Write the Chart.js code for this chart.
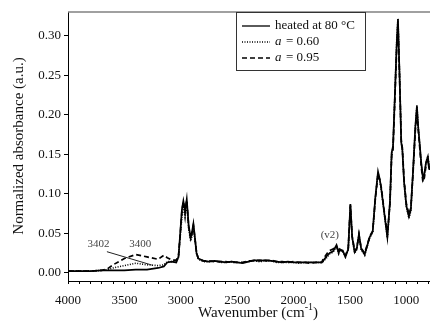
<!DOCTYPE html>
<html>
<head>
<meta charset="utf-8">
<script src="https://cdn.jsdelivr.net/npm/chart.js@4/dist/chart.umd.min.js"></script>
<style>
  html, body { margin: 0; padding: 0; background: #fff; }
  #myChart { display: block; }
</style>
</head>
<body>
<canvas id="myChart" width="430" height="326"></canvas>
<script>
// wavenumbers (cm-1)
const wavenumbers = [
    4000, 3900, 3800, 3700, 3650, 3600, 3500, 3400, 3300, 3200, 3150, 3120, 3080, 3040, 3020,
    3005, 2990, 2977, 2962, 2947, 2930, 2912, 2900, 2888, 2875, 2860, 2844,
    2800, 2750, 2700, 2650, 2600, 2550, 2500, 2450, 2400, 2350, 2300, 2250, 2200, 2150, 2100, 2050, 2000, 1950, 1900, 1850, 1800, 1750,
    1738, 1700, 1679, 1650, 1619, 1600, 1590, 1564, 1540, 1515, 1496, 1480, 1458, 1440, 1420, 1400, 1369,
    1345, 1325, 1298, 1275, 1251, 1235, 1221, 1195, 1168, 1145, 1130, 1118, 1100, 1085, 1074, 1060, 1045, 1035, 1020, 1000,
    977, 960, 940, 920, 906, 895, 882, 868, 853, 840, 825, 809, 795
];

const heated80 = [
    0.002, 0.002, 0.002, 0.003, 0.003, 0.003, 0.003, 0.004, 0.004, 0.006, 0.008, 0.013, 0.014, 0.013, 0.020,
    0.050, 0.080, 0.091, 0.078, 0.093, 0.060, 0.044, 0.052, 0.062, 0.045, 0.025, 0.018,
    0.015, 0.014, 0.015, 0.014, 0.013, 0.014, 0.013, 0.012, 0.014, 0.016, 0.015, 0.016, 0.015, 0.014, 0.013, 0.014, 0.013, 0.013, 0.013, 0.013, 0.013, 0.013,
    0.015, 0.022, 0.025, 0.027, 0.035, 0.025, 0.029, 0.028, 0.020, 0.030, 0.087, 0.045, 0.026, 0.030, 0.049, 0.030, 0.023,
    0.035, 0.045, 0.052, 0.095, 0.128, 0.118, 0.105, 0.075, 0.045, 0.090, 0.152, 0.160, 0.230, 0.290, 0.321, 0.250, 0.165, 0.155, 0.115, 0.085,
    0.071, 0.080, 0.130, 0.185, 0.211, 0.185, 0.164, 0.140, 0.121, 0.125, 0.140, 0.147, 0.130
];

const a060 = [
    0.002, 0.002, 0.002, 0.003, 0.004, 0.006, 0.009, 0.012, 0.010, 0.009, 0.010, 0.014, 0.014, 0.014, 0.020,
    0.045, 0.070, 0.086, 0.070, 0.090, 0.055, 0.040, 0.047, 0.058, 0.042, 0.024, 0.017,
    0.014, 0.014, 0.015, 0.013, 0.013, 0.014, 0.013, 0.013, 0.014, 0.015, 0.014, 0.015, 0.015, 0.013, 0.013, 0.013, 0.013, 0.012, 0.013, 0.013, 0.013, 0.013,
    0.014, 0.020, 0.024, 0.026, 0.033, 0.024, 0.028, 0.027, 0.020, 0.029, 0.086, 0.044, 0.025, 0.029, 0.048, 0.029, 0.022,
    0.034, 0.044, 0.051, 0.093, 0.126, 0.117, 0.104, 0.074, 0.044, 0.088, 0.150, 0.158, 0.232, 0.295, 0.322, 0.252, 0.167, 0.156, 0.114, 0.083,
    0.069, 0.078, 0.128, 0.184, 0.212, 0.186, 0.163, 0.138, 0.118, 0.124, 0.140, 0.148, 0.131
];

const a095 = [
    0.002, 0.002, 0.002, 0.003, 0.005, 0.010, 0.018, 0.023, 0.020, 0.017, 0.022, 0.019, 0.016, 0.016, 0.022,
    0.048, 0.078, 0.090, 0.076, 0.092, 0.058, 0.043, 0.050, 0.060, 0.044, 0.025, 0.018,
    0.015, 0.015, 0.014, 0.014, 0.014, 0.013, 0.013, 0.013, 0.015, 0.015, 0.016, 0.015, 0.016, 0.014, 0.014, 0.013, 0.014, 0.013, 0.013, 0.012, 0.013, 0.013,
    0.017, 0.025, 0.028, 0.030, 0.034, 0.027, 0.030, 0.027, 0.022, 0.031, 0.085, 0.046, 0.028, 0.031, 0.048, 0.031, 0.025,
    0.036, 0.046, 0.053, 0.093, 0.125, 0.117, 0.107, 0.077, 0.048, 0.088, 0.148, 0.156, 0.225, 0.285, 0.315, 0.248, 0.168, 0.158, 0.118, 0.088,
    0.074, 0.082, 0.127, 0.180, 0.205, 0.182, 0.160, 0.135, 0.115, 0.120, 0.136, 0.143, 0.128
];

const xTicks = [4000, 3900, 3800, 3700, 3600, 3500, 3400, 3300, 3200, 3100, 3000, 2900, 2800, 2700, 2600, 2500,
    2400, 2300, 2200, 2100, 2000, 1900, 1800, 1700, 1600, 1500, 1400, 1300, 1200, 1100, 1000, 900, 800];
const xLabelTicks = [4000, 3500, 3000, 2500, 2000, 1500, 1000];
const yTicks = [0, 0.05, 0.10, 0.15, 0.20, 0.25, 0.30];

const legendLabels = ['heated at 80 \u00b0C', '= 0.60', '= 0.95'];
// annotations: [text, wavenumber, value]
const peakNotes = [['3402', 3729, 0.0363], ['3400', 3360, 0.0363], ['(v2)', 1678, 0.048]];
const leaderLine = [[3655, 0.0266], [3257, 0.0097]];

const serif = '"Liberation Serif", "Times New Roman", serif';

function toPoints(values) {
    return wavenumbers.map((w, i) => ({ x: w, y: values[i] }));
}

const dashStyles = [[], [1, 1.5], [5, 3]];

const extrasPlugin = {
    id: 'extras',
    afterDraw(chart) {
        const ctx = chart.ctx;
        const area = chart.chartArea;
        const xs = chart.scales.x;
        const ys = chart.scales.y;
        ctx.save();

        // gray frame line on top
        ctx.strokeStyle = '#808080';
        ctx.lineWidth = 1.5;
        ctx.beginPath();
        ctx.moveTo(area.left, area.top);
        ctx.lineTo(area.right, area.top);
        ctx.stroke();

        // legend box
        const bx = 236, by = 12, bw = 129, bh = 58;
        ctx.fillStyle = '#fff';
        ctx.fillRect(bx, by, bw, bh);
        ctx.strokeStyle = '#333';
        ctx.lineWidth = 1;
        ctx.strokeRect(bx + 0.5, by + 0.5, bw, bh);

        const rows = [26, 42, 58];
        ctx.textBaseline = 'middle';
        ctx.textAlign = 'left';
        ctx.fillStyle = '#111';
        for (let i = 0; i < 3; i++) {
            ctx.strokeStyle = '#000';
            ctx.lineWidth = 1.3;
            ctx.setLineDash(dashStyles[i]);
            ctx.beginPath();
            ctx.moveTo(242, rows[i]);
            ctx.lineTo(270, rows[i]);
            ctx.stroke();
            ctx.setLineDash([]);
            if (i === 0) {
                ctx.font = '13px ' + serif;
                ctx.fillText(legendLabels[i], 275, rows[i]);
            } else {
                ctx.font = 'italic 13px ' + serif;
                ctx.fillText('a', 275, rows[i]);
                ctx.font = '13px ' + serif;
                ctx.fillText(legendLabels[i], 286, rows[i]);
            }
        }

        // peak annotations
        ctx.font = '11px ' + serif;
        ctx.fillStyle = '#444';
        ctx.textAlign = 'center';
        peakNotes.forEach(n => {
            ctx.fillText(n[0], xs.getPixelForValue(n[1]), ys.getPixelForValue(n[2]));
        });
        ctx.strokeStyle = '#222';
        ctx.lineWidth = 1;
        ctx.beginPath();
        ctx.moveTo(xs.getPixelForValue(leaderLine[0][0]), ys.getPixelForValue(leaderLine[0][1]));
        ctx.lineTo(xs.getPixelForValue(leaderLine[1][0]), ys.getPixelForValue(leaderLine[1][1]));
        ctx.stroke();

        // axis titles
        ctx.fillStyle = '#111';
        ctx.font = '15px ' + serif;
        ctx.save();
        ctx.translate(19, 146);
        ctx.rotate(-Math.PI / 2);
        ctx.textAlign = 'center';
        ctx.fillText('Normalized absorbance (a.u.)', 0, 0);
        ctx.restore();

        const main = 'Wavenumber (cm';
        const sup = '-1';
        const close = ')';
        ctx.font = '15px ' + serif;
        const w1 = ctx.measureText(main).width;
        const w3 = ctx.measureText(close).width;
        ctx.font = '10px ' + serif;
        const w2 = ctx.measureText(sup).width;
        let x0 = 258 - (w1 + w2 + w3) / 2;
        const ty = 313;
        ctx.textAlign = 'left';
        ctx.font = '15px ' + serif;
        ctx.fillText(main, x0, ty);
        ctx.font = '10px ' + serif;
        ctx.fillText(sup, x0 + w1, ty - 6);
        ctx.font = '15px ' + serif;
        ctx.fillText(close, x0 + w1 + w2, ty);

        ctx.restore();
    }
};

var ctx = document.getElementById('myChart').getContext('2d');
var chart = new Chart(ctx, {
    type: 'line',
    data: {
        datasets: [
            { label: 'heated at 80 °C', data: toPoints(heated80), borderColor: '#000', borderWidth: 1.7, borderDash: dashStyles[0] },
            { label: 'a = 0.60', data: toPoints(a060), borderColor: '#000', borderWidth: 1.6, borderDash: dashStyles[1] },
            { label: 'a = 0.95', data: toPoints(a095), borderColor: '#000', borderWidth: 1.7, borderDash: dashStyles[2] }
        ]
    },
    options: {
        responsive: false,
        animation: false,
        events: [],
        layout: { padding: { top: 12, right: 0, left: 0, bottom: 0 } },
        elements: { point: { radius: 0 }, line: { tension: 0 } },
        plugins: { legend: { display: false }, tooltip: { enabled: false } },
        scales: {
            x: {
                type: 'linear',
                reverse: true,
                min: 790,
                max: 4000,
                afterBuildTicks: scale => { scale.ticks = xTicks.map(v => ({ value: v })); },
                afterFit: scale => {
                    scale.height = 45;
                    scale.paddingLeft = 0;
                    scale.paddingRight = 0;
                },
                grid: { drawOnChartArea: false, drawTicks: true, tickLength: 3, color: '#000' },
                border: { color: '#000', width: 1 },
                ticks: {
                    autoSkip: false,
                    maxRotation: 0,
                    padding: 9,
                    color: '#111',
                    font: { family: serif, size: 13 },
                    callback: v => xLabelTicks.includes(v) ? String(v) : ''
                }
            },
            y: {
                min: -0.0105,
                max: 0.33,
                afterBuildTicks: scale => { scale.ticks = yTicks.map(v => ({ value: v })); },
                afterFit: scale => {
                    scale.width = 68;
                    scale.paddingTop = 0;
                    scale.paddingBottom = 0;
                },
                grid: { drawOnChartArea: false, drawTicks: true, tickLength: 4, color: '#000' },
                border: { color: '#000', width: 1 },
                ticks: {
                    padding: 3,
                    color: '#111',
                    font: { family: serif, size: 13 },
                    callback: v => v.toFixed(2)
                }
            }
        }
    },
    plugins: [extrasPlugin]
});
</script>
</body>
</html>
